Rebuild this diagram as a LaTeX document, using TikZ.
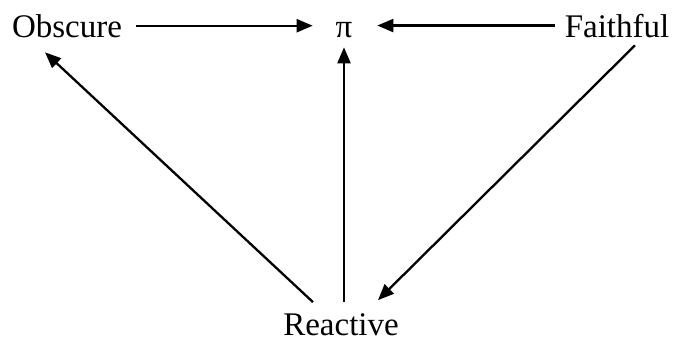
\documentclass[tikz,border=0pt]{standalone}
\usepackage{fontspec}
\setmainfont{Liberation Serif}
\usetikzlibrary{calc, positioning, arrows.meta}

\begin{document}
\begin{tikzpicture}[
  x=1pt, y=-1pt,
  font=\fontsize{33}{36}\selectfont,
  arrow/.style={-{Triangle[length=16pt, width=13pt]}, line width=2.3pt},
  term/.style={inner sep=0pt, outer sep=0pt, anchor=base}
]
\useasboundingbox (0,0) rectangle (674,343);

% --- Terms ---
\node[term] (obscure) at (67,37) {Obscure};
\node[term] (pi) at (344,37) {π};
\node[term] (faithful) at (617,37) {Faithful};
\node[term] (reactive) at (341,335) {Reactive};

% --- Top row ---
\draw[arrow, shorten <=14pt, shorten >=23pt] (obscure.east) -- (obscure.east -| pi.west);
\draw[arrow, shorten <=10pt, shorten >=25pt] (faithful.west) -- (faithful.west -| pi.east);

% --- From / to Reactive ---
\draw[arrow] ($(pi.south |- reactive.north)+(0,-11)$) -- ($(pi.south)+(0,10)$);
\draw[arrow] ($(reactive.north)+(-28,-11)$) -- ($(obscure.south)+(-22,15)$);
\draw[arrow] ($(faithful.south)+(18,8)$) -- ($(reactive.north)+(37,-13)$);

\end{tikzpicture}
\end{document}
